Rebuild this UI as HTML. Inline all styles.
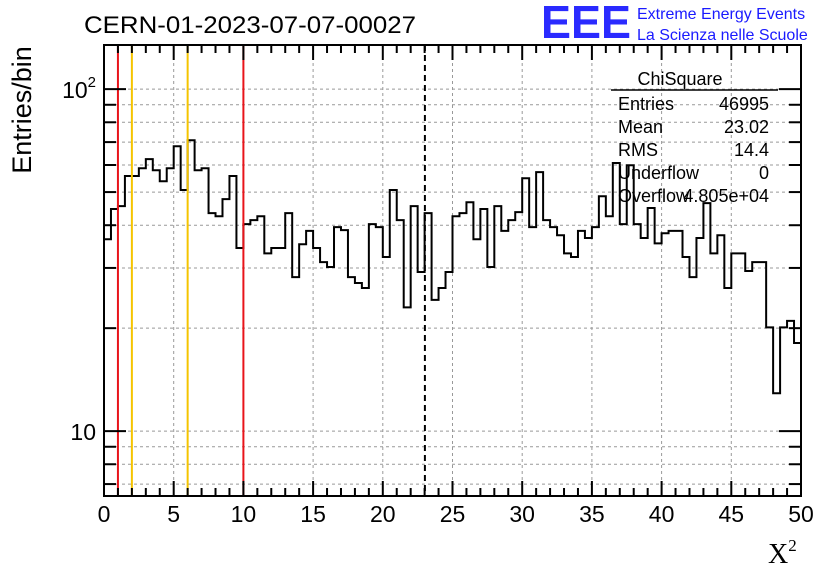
<!DOCTYPE html>
<html><head><meta charset="utf-8"><style>
html,body{margin:0;padding:0;background:#fff;}
svg{display:block;font-family:"Liberation Sans",sans-serif;}
</style></head><body>
<svg id="c" width="836" height="572" viewBox="0 0 836 572">
<rect width="836" height="572" fill="#fff"/>
<g id="grid"></g>
<g id="marks"></g>
<g id="axes"></g>
<text x="84" y="33" font-size="24" textLength="332" lengthAdjust="spacingAndGlyphs">CERN-01-2023-07-07-00027</text>
<text x="541" y="38" font-size="46" font-weight="bold" fill="#2a2aff" textLength="90" lengthAdjust="spacingAndGlyphs">EEE</text>
<text x="637" y="19" font-size="16" fill="#1a1aff">Extreme Energy Events</text>
<text x="637" y="40" font-size="16" fill="#1a1aff">La Scienza nelle Scuole</text>
<text transform="translate(31,110) rotate(-90)" text-anchor="middle" font-size="27">Entries/bin</text>
<text x="768" y="563" font-family="Liberation Serif,serif" font-size="28">X<tspan font-size="17" dy="-12">2</tspan></text>
<g font-size="18">
<text x="680" y="85" text-anchor="middle">ChiSquare</text>
<line x1="611" y1="90" x2="778" y2="90" stroke="#000" stroke-width="1.5"/>
<text x="618" y="110">Entries</text><text x="769" y="110" text-anchor="end">46995</text>
<text x="618" y="133">Mean</text><text x="769" y="133" text-anchor="end">23.02</text>
<text x="618" y="156">RMS</text><text x="769" y="156" text-anchor="end">14.4</text>
<text x="618" y="179">Underflow</text><text x="769" y="179" text-anchor="end">0</text>
<text x="618" y="202">Overflow</text><text x="769" y="202" text-anchor="end">4.805e+04</text>
</g>
</svg>
<script>
const binCounts=[36.4,44.6,45.5,55.7,55.7,58.7,62.4,57.9,53.8,58.7,68.1,50.7,70.9,57.9,58.7,43.4,42.5,47.7,55.7,34.3,
40.3,41.4,42.5,33.1,34.3,34.3,43.4,28.2,35.2,38.5,34.3,31.2,30.2,39.5,38.7,28.2,27.1,26.2,40.3,39.5,
32.3,50.7,41.4,23.0,45.5,29.2,43.4,24.2,26.2,29.2,42.5,43.4,46.7,36.4,44.6,30.2,45.5,38.5,41.4,43.7,
54.9,39.5,57.2,41.4,39.5,37.4,33.1,32.3,38.5,36.7,39.5,48.6,42.5,60.8,40.3,59.9,40.3,36.7,44.9,35.4,
37.9,38.5,38.5,32.3,28.2,36.7,46.4,33.1,37.4,26.2,33.1,33.1,29.4,31.2,31.2,20.1,12.9,20.1,21.0,18.1];
const xMin=0,xMax=50,binWidth=0.5;
const xTickLabels=["0","5","10","15","20","25","30","35","40","45","50"];
const yMin=6.46,yMax=134.6;
const redCuts=[1,10];
const goldCuts=[2,6];
const meanValue=23.02;
const L=104,R=801,T=45,B=496;
const NS="http://www.w3.org/2000/svg";
const X=v=>L+(v-xMin)/(xMax-xMin)*(R-L);
const Y=v=>B-(Math.log10(v)-Math.log10(yMin))/(Math.log10(yMax)-Math.log10(yMin))*(B-T);
function mk(tag,attrs,parent){const e=document.createElementNS(NS,tag);for(const k in attrs)e.setAttribute(k,attrs[k]);parent.appendChild(e);return e;}
const grid=document.getElementById('grid'),marks=document.getElementById('marks'),axes=document.getElementById('axes');
for(let i=1;i<xTickLabels.length-1;i++){const x=X(+xTickLabels[i]);const g=mk('line',{x1:x,x2:x,y1:T,y2:B,stroke:'#999','stroke-dasharray':'3,3','stroke-width':1},grid);

}
const yTicks=[7,8,9,10,20,30,40,50,60,70,80,90,100];
yTicks.forEach(v=>{const y=Y(v);const g=mk('line',{x1:L,x2:R,y1:y,y2:y,stroke:'#999','stroke-dasharray':'3,3','stroke-width':1},grid);

});
let d='M'+X(xMin)+','+B;
binCounts.forEach((c,i)=>{const x0=X(xMin+i*binWidth),x1=X(xMin+(i+1)*binWidth),y=Y(c);d+=' L'+x0+','+y+' L'+x1+','+y;});
const h=mk('path',{d:d,fill:'none',stroke:'#000','stroke-width':2},marks);


redCuts.forEach(v=>{const l=mk('line',{x1:X(v),x2:X(v),y1:T,y2:B,stroke:'#e8141a','stroke-width':2},marks);

});
goldCuts.forEach(v=>{const l=mk('line',{x1:X(v),x2:X(v),y1:T,y2:B,stroke:'#f5c400','stroke-width':2},marks);

});
const ml=mk('line',{x1:X(meanValue),x2:X(meanValue),y1:T,y2:B,stroke:'#000','stroke-width':2,'stroke-dasharray':'6,4'},marks);


const fr=mk('rect',{x:L,y:T,width:R-L,height:B-T,fill:'none',stroke:'#000','stroke-width':2},axes);


for(let v=xMin;v<=xMax;v++){const x=X(v);const len=(v%5===0)?15:8;
mk('line',{x1:x,x2:x,y1:B,y2:B-len,stroke:'#000','stroke-width':2},axes);
mk('line',{x1:x,x2:x,y1:T,y2:T+len,stroke:'#000','stroke-width':2},axes);}
xTickLabels.forEach(s=>{const t=mk('text',{x:X(+s),y:522,'text-anchor':'middle','font-size':23},axes);t.textContent=s;

});
yTicks.forEach(v=>{const y=Y(v);const len=(v===10||v===100)?22:12;
mk('line',{x1:L,x2:L+len,y1:y,y2:y,stroke:'#000','stroke-width':2},axes);
mk('line',{x1:R,x2:R-len,y1:y,y2:y,stroke:'#000','stroke-width':2},axes);});
const t10=mk('text',{x:96,y:Y(10)+9,'text-anchor':'end','font-size':23},axes);t10.textContent='10';


const t100=mk('text',{x:96,y:Y(100)+9,'text-anchor':'end','font-size':23},axes);t100.innerHTML='10<tspan font-size="15" dy="-11">2</tspan>';


</script>
</body></html>
